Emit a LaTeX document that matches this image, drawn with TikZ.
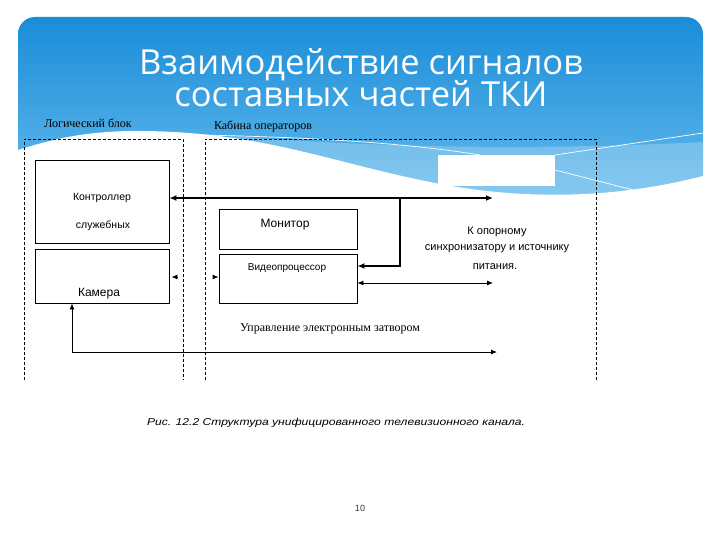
\documentclass[tikz,border=0pt]{standalone}
\usepackage{fontspec}
\setmainfont{Liberation Serif}
\setsansfont{Liberation Sans}
\newfontfamily\titlefont{Open Sans}
\usetikzlibrary{arrows.meta}
\definecolor{hdtop}{HTML}{1A8CD8}
\definecolor{hdbot}{HTML}{72C3F0}
\definecolor{pagenum}{HTML}{333A44}
\tikzset{
  blockbox/.style={draw=black, line width=0.8pt, fill=white, inner sep=0pt},
  grpbox/.style={draw=black, line width=0.6pt, dash pattern=on 3pt off 2pt},
  sanstext/.style={font=\sffamily\fontsize{10.5}{12}\selectfont, inner sep=0pt, anchor=base},
  seriftext/.style={font=\rmfamily\fontsize{12}{14}\selectfont, inner sep=0pt, anchor=base},
  conn/.style={line width=0.8pt, arrows={-Latex[length=6pt,width=5pt]}},
  bus/.style={line width=1.6pt},
  waveline/.style={white, line width=0.7pt}
}
\begin{document}
\begin{tikzpicture}[x=1pt,y=-1pt]
\useasboundingbox (0,0) rectangle (720,540);
\fill[white] (0,0) rectangle (720,540);
% header
\shade[top color=hdtop, bottom color=hdbot, rounded corners=17pt] (18,17) rectangle (703,230);
\fill[white, opacity=0.22] (230,136) .. controls (350,145) and (500,152) .. (703,142) -- (703,230) -- (230,230) -- cycle;
\fill[white] (10,150) -- (18,150) .. controls (50,140) and (80,132) .. (130,131) .. controls (260,130) and (330,163) .. (440,184) .. controls (520,199) and (610,200) .. (703,176) -- (712,176) -- (712,240) -- (10,240) -- cycle;
\draw[waveline] (200,135) .. controls (300,137) and (400,142) .. (480,155);
\draw[waveline] (555,155) -- (703,133);
\draw[waveline] (555,170) -- (645,193);
\fill[white] (438,155) rectangle (555,186);
% title
\node[font=\titlefont\fontsize{34.5}{40}\selectfont, text=white, anchor=base, inner sep=0pt] (t1) at (361,75) {Взаимодействие сигналов};
\node[font=\titlefont\fontsize{34.5}{40}\selectfont, text=white, anchor=base, inner sep=0pt] (t2) at (361,107) {составных частей ТКИ};
% groups
\draw[grpbox] (24,380) -- (24,139) -- (183,139) -- (183,380);
\draw[grpbox] (205,380) -- (205,139) -- (596,139) -- (596,380);
\node[seriftext] (lg) at (88,128) {Логический блок};
\node[seriftext] (kb) at (263,130) {Кабина операторов};
% blocks
\node[blockbox, minimum width=134pt, minimum height=83pt] (ctrl) at (102,201.5) {};
\node[blockbox, minimum width=134pt, minimum height=54pt] (cam) at (102,276) {};
\node[blockbox, minimum width=138pt, minimum height=40pt] (mon) at (288,229) {};
\node[blockbox, minimum width=138pt, minimum height=49pt] (vp) at (288,278.5) {};
\node[sanstext] (ctrlA) at (102,201) {Контроллер};
\node[sanstext] (ctrlB) at (103,229) {служебных};
\node[sanstext, font=\sffamily\fontsize{12}{14}\selectfont] (camT) at (99,296) {Камера};
\node[sanstext, font=\sffamily\fontsize{12}{14}\selectfont] (monT) at (285,228) {Монитор};
\node[sanstext, font=\sffamily\fontsize{10}{12}\selectfont] (vpT) at (287,270) {Видеопроцессор};
% right texts
\node[sanstext, font=\sffamily\fontsize{11}{13}\selectfont] (r1) at (497,234) {К опорному};
\node[sanstext, font=\sffamily\fontsize{11}{13}\selectfont] (r2) at (497,251) {синхронизатору и источнику};
\node[sanstext, font=\sffamily\fontsize{11}{13}\selectfont] (r3) at (495,269) {питания.};
\node[seriftext] (ctl) at (330,331) {Управление электронным затвором};
% connectors
\coordinate (busR) at (493,198);
\coordinate (junc) at (400,198);
\coordinate (dR) at (493,283);
\coordinate (bl) at (72,352);
\coordinate (br) at (497,352);
\draw[bus, arrows={Latex[length=7pt,width=6pt]-Latex[length=7pt,width=6pt]}] (ctrl.east |- busR) -- (busR);
\draw[bus, arrows={-Latex[length=7pt,width=6pt]}] (junc) |- ([yshift=12.5pt]vp.east);
\draw[conn, arrows={Latex[length=6pt,width=5pt]-Latex[length=6pt,width=5pt]}] (vp.east |- dR) -- (dR);
\draw[conn, arrows={Latex[length=6pt,width=5pt]-Latex[length=6pt,width=5pt]}] (cam.south -| bl) -- (bl) -- (br);
\draw[conn] ([xshift=8pt, yshift=-1pt]cam.east) -- ([xshift=2pt, yshift=-1pt]cam.east);
\draw[conn] ([xshift=-6pt, yshift=1.5pt]vp.west) -- ([yshift=1.5pt]vp.west);
% caption
\node[font=\sffamily\itshape\fontsize{10}{12}\selectfont, inner sep=0pt, anchor=base, xscale=1.21] (cap) at (336,425) {Рис. 12.2 Структура унифицированного телевизионного канала.};
\node[font=\sffamily\fontsize{9}{11}\selectfont, text=pagenum, inner sep=0pt, anchor=base] (pn) at (360,511) {10};
\end{tikzpicture}
\end{document}
